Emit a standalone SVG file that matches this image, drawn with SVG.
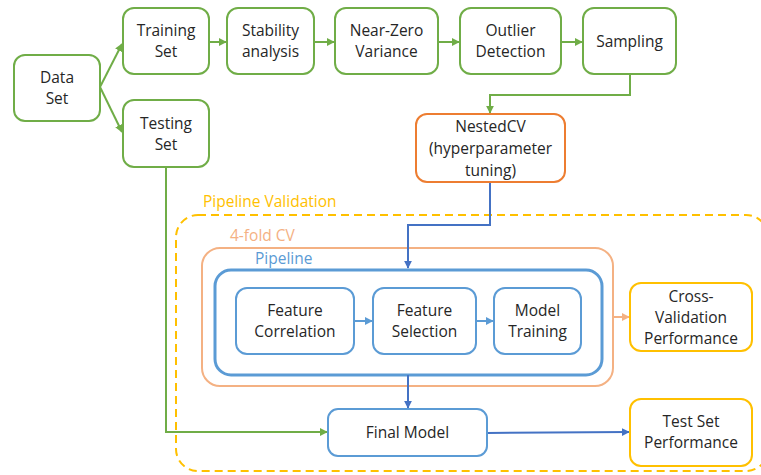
<svg xmlns="http://www.w3.org/2000/svg" width="761" height="475" viewBox="0 0 761 475">
<style>
text{font-family:"Open Sans","Noto Sans","DejaVu Sans",sans-serif;font-size:15.5px;fill:#262626;text-anchor:middle}
.g{fill:#fff;stroke:#70AD47;stroke-width:2}
.o{fill:#fff;stroke:#ED7D31;stroke-width:2}
.b{fill:#fff;stroke:#5B9BD5;stroke-width:2}
.y{fill:#fff;stroke:#FFC000;stroke-width:2}
.cg{fill:none;stroke:#70AD47;stroke-width:2}
.cb{fill:none;stroke:#4472C4;stroke-width:2}
.cp{fill:none;stroke:#F4B183;stroke-width:2}
.lbl{text-anchor:start}
</style>
<defs>
<marker id="ag" viewBox="0 0 10 10" refX="9" refY="5" markerWidth="4" markerHeight="4" orient="auto"><path d="M0,0L10,5L0,10z" fill="#70AD47"/></marker>
<marker id="ab" viewBox="0 0 10 10" refX="9" refY="5" markerWidth="4" markerHeight="4" orient="auto"><path d="M0,0L10,5L0,10z" fill="#4472C4"/></marker>
<marker id="al" viewBox="0 0 10 10" refX="9" refY="5" markerWidth="4" markerHeight="4" orient="auto"><path d="M0,0L10,5L0,10z" fill="#5B9BD5"/></marker>
<marker id="ap" viewBox="0 0 10 10" refX="9" refY="5" markerWidth="4" markerHeight="4" orient="auto"><path d="M0,0L10,5L0,10z" fill="#F4B183"/></marker>
</defs>

<g id="containers">
<rect x="176" y="215" width="592" height="256" rx="22" fill="none" stroke="#FFC000" stroke-width="2" stroke-dasharray="8,5"/>
<text class="lbl" x="203" y="207" style="fill:#FFC000">Pipeline Validation</text>
<rect x="202" y="248" width="411" height="138" rx="18" fill="none" stroke="#F4B183" stroke-width="2"/>
<text class="lbl" x="230" y="241" style="fill:#F4B183">4-fold CV</text>
<rect x="215" y="270" width="387" height="105" rx="16" fill="none" stroke="#5B9BD5" stroke-width="3"/>
<text class="lbl" x="255" y="264" style="fill:#5B9BD5">Pipeline</text>
</g>

<g id="connectors">
<path class="cg" d="M100,87L122,44" marker-end="url(#ag)"/>
<path class="cg" d="M100,87L122,132" marker-end="url(#ag)"/>
<path class="cg" d="M209,42H226" marker-end="url(#ag)"/>
<path class="cg" d="M314,42H334" marker-end="url(#ag)"/>
<path class="cg" d="M438,42H459" marker-end="url(#ag)"/>
<path class="cg" d="M561,42H582" marker-end="url(#ag)"/>
<path class="cg" d="M630,74V95H490V113" marker-end="url(#ag)"/>
<path class="cb" d="M490,182V225H408V268" marker-end="url(#ab)"/>
<path class="cg" d="M166,167V432H327" marker-end="url(#ag)"/>
<path class="cb" d="M408,375V408" marker-end="url(#ab)"/>
<path class="cb" d="M487,433L629,432" marker-end="url(#ab)"/>
<path class="cp" d="M613,317H629" marker-end="url(#ap)"/>
<path fill="none" stroke="#5B9BD5" stroke-width="2" d="M354,321H372" marker-end="url(#al)"/>
<path fill="none" stroke="#5B9BD5" stroke-width="2" d="M476,321H493" marker-end="url(#al)"/>
</g>

<g id="data-set"><rect class="g" x="14" y="55" width="86" height="66" rx="11"/><text x="57" y="83">Data</text><text x="57" y="104">Set</text></g>
<g id="training-set"><rect class="g" x="123" y="8" width="86" height="66" rx="11"/><text x="166" y="36">Training</text><text x="166" y="57">Set</text></g>
<g id="testing-set"><rect class="g" x="123" y="100" width="86" height="67" rx="11"/><text x="166" y="129">Testing</text><text x="166" y="150">Set</text></g>
<g id="stability"><rect class="g" x="227" y="8" width="87" height="66" rx="11"/><text x="270.5" y="36">Stability</text><text x="270.5" y="57">analysis</text></g>
<g id="nzv"><rect class="g" x="335" y="8" width="103" height="66" rx="11"/><text x="386.5" y="36">Near-Zero</text><text x="386.5" y="57">Variance</text></g>
<g id="outlier"><rect class="g" x="460" y="8" width="101" height="66" rx="11"/><text x="510.5" y="36">Outlier</text><text x="510.5" y="57">Detection</text></g>
<g id="sampling"><rect class="g" x="583" y="8" width="93" height="66" rx="11"/><text x="629.5" y="47">Sampling</text></g>
<g id="nestedcv"><rect class="o" x="416" y="114" width="149" height="68" rx="11"/><text x="490.5" y="132">NestedCV</text><text x="490.5" y="154">(hyperparameter</text><text x="490.5" y="176">tuning)</text></g>
<g id="feature-correlation"><rect class="b" x="236" y="288" width="118" height="66" rx="11"/><text x="295" y="316">Feature</text><text x="295" y="337">Correlation</text></g>
<g id="feature-selection"><rect class="b" x="373" y="288" width="103" height="66" rx="11"/><text x="424.5" y="316">Feature</text><text x="424.5" y="337">Selection</text></g>
<g id="model-training"><rect class="b" x="494" y="288" width="87" height="66" rx="11"/><text x="537.5" y="316">Model</text><text x="537.5" y="337">Training</text></g>
<g id="cv-performance"><rect class="y" x="630" y="283" width="122" height="68" rx="11"/><text x="691" y="302">Cross-</text><text x="691" y="323">Validation</text><text x="691" y="344">Performance</text></g>
<g id="final-model"><rect class="b" x="328" y="409" width="159" height="47" rx="10"/><text x="407.5" y="438">Final Model</text></g>
<g id="test-performance"><rect class="y" x="630" y="399" width="122" height="67" rx="11"/><text x="691" y="427">Test Set</text><text x="691" y="448">Performance</text></g>
</svg>
